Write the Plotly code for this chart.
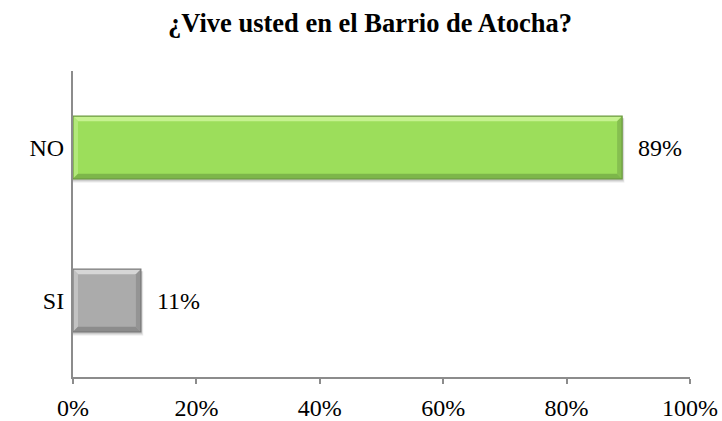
import plotly.graph_objects as go

categories = ["SI", "NO"]
values = [0.11, 0.89]
labels = ["11%", "89%"]
fill_colors = ["#ABABAB", "#9CDE5B"]
top_colors = ["#D6D6D6", "#C6F290"]
left_colors = ["#C2C2C2", "#B2E97A"]
bottom_colors = ["#8C8C8C", "#7DB64A"]
right_colors = ["#949494", "#86BF50"]
edge_colors = ["#7A7A7A", "#6C9A40"]
x_tickvals = [0, 0.2, 0.4, 0.6, 0.8, 1.0]
x_ticktext = ["0%", "20%", "40%", "60%", "80%", "100%"]
title = "¿Vive usted en el Barrio de Atocha?"

FONT = "Liberation Serif, Times New Roman, Times, serif"
BAR_W = 0.41
PX_X = 1 / 617.0   # data units per pixel on x
PX_Y = 2 / 306.0   # data units per pixel on y
BEV = 5

positions = list(range(len(categories)))

fig = go.Figure()
fig.add_trace(go.Bar(
    y=positions, x=values, orientation="h",
    marker=dict(color=fill_colors, line=dict(width=0)),
    width=BAR_W, hoverinfo="skip",
))


def path(pts):
    return "M " + " L ".join(f"{px},{py}" for px, py in pts) + " Z"


shapes = []
for i, v in zip(positions, values):
    yt, yb = i + BAR_W / 2, i - BAR_W / 2
    bx, by = BEV * PX_X, BEV * PX_Y
    for k, a in [(4, 0.06), (3, 0.08), (2, 0.1)]:
        shapes.append(dict(type="rect", xref="x", yref="y", layer="below",
                           x0=0, x1=v + k * PX_X * 0.6, y0=yb - k * PX_Y, y1=yt - 2 * PX_Y,
                           fillcolor=f"rgba(0,0,0,{a})", line=dict(width=0)))
    shapes.append(dict(type="path", xref="x", yref="y", layer="above", line=dict(width=0),
                       fillcolor=top_colors[i],
                       path=path([(0, yt), (v, yt), (v - bx, yt - by), (bx, yt - by)])))
    shapes.append(dict(type="path", xref="x", yref="y", layer="above", line=dict(width=0),
                       fillcolor=left_colors[i],
                       path=path([(0, yb), (0, yt), (bx, yt - by), (bx, yb + by)])))
    shapes.append(dict(type="path", xref="x", yref="y", layer="above", line=dict(width=0),
                       fillcolor=bottom_colors[i],
                       path=path([(0, yb), (v, yb), (v - bx, yb + by), (bx, yb + by)])))
    shapes.append(dict(type="path", xref="x", yref="y", layer="above", line=dict(width=0),
                       fillcolor=right_colors[i],
                       path=path([(v, yb), (v, yt), (v - bx, yt - by), (v - bx, yb + by)])))
    shapes.append(dict(type="rect", xref="x", yref="y", layer="above",
                       x0=0, x1=v, y0=yb, y1=yt, fillcolor="rgba(0,0,0,0)",
                       line=dict(color=edge_colors[i], width=1.2)))

for i, v, t in zip(positions, values, labels):
    fig.add_annotation(x=v, y=i, text=t, showarrow=False, xanchor="left",
                       xshift=14, font=dict(family=FONT, size=24, color="#000000"))

fig.update_layout(
    width=722, height=421,
    margin=dict(l=73, r=32, t=71, b=44),
    paper_bgcolor="white", plot_bgcolor="white",
    showlegend=False,
    shapes=shapes,
    title=dict(text="<b>" + title + "</b>", x=370 / 722, xref="container", xanchor="center",
               y=1 - 23 / 421, yref="container", yanchor="middle",
               font=dict(family=FONT, size=26.5, color="#000000")),
    font=dict(family=FONT, color="#000000"),
    xaxis=dict(range=[0, 1], tickvals=x_tickvals, ticktext=x_ticktext, automargin=False,
               showgrid=False, zeroline=False, showline=True, linecolor="#8C8C8C", linewidth=2,
               ticks="outside", ticklen=5, tickcolor="#8C8C8C", tickwidth=2,
               tickfont=dict(family=FONT, size=24, color="#000000"),
               ticklabelstandoff=3),
    yaxis=dict(range=[-0.5, 1.5], tickvals=positions, ticktext=categories, automargin=False,
               showgrid=False, zeroline=False, showline=True, linecolor="#8C8C8C", linewidth=2,
               ticks="", tickfont=dict(family=FONT, size=24, color="#000000"),
               ticklabelstandoff=2),
)

fig.write_html("out.html", config={"displayModeBar": False},
               post_script="document.body.style.margin='0';document.body.style.padding='0';")
